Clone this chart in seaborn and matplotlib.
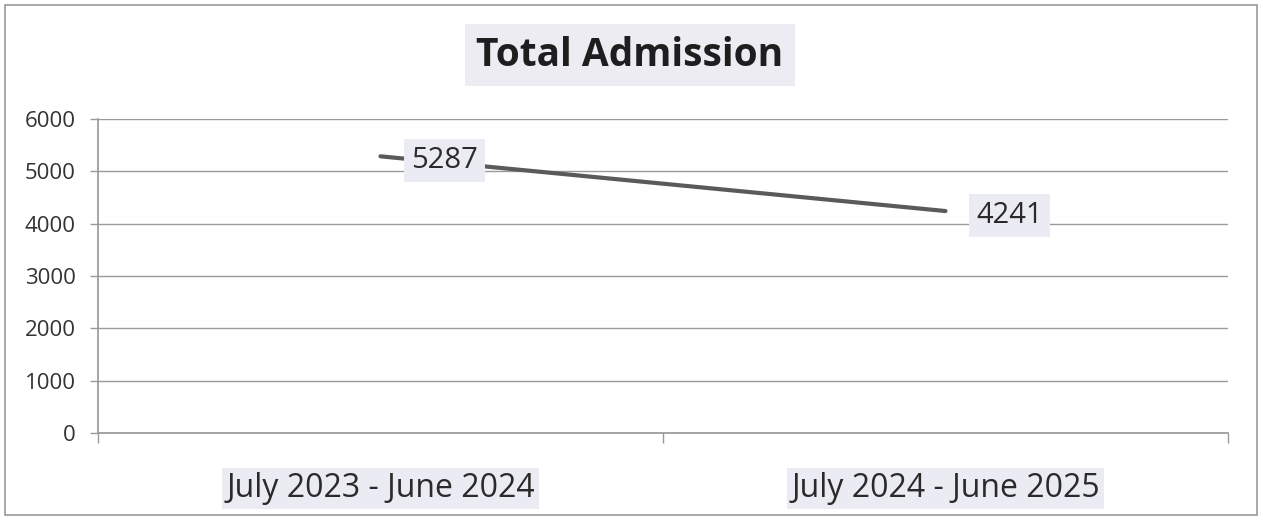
import matplotlib
matplotlib.use("Agg")
import matplotlib.pyplot as plt
import matplotlib.patches as mpatches
import seaborn as sns
import pandas as pd

periods = ["July 2023 - June 2024", "July 2024 - June 2025"]
admissions = [5287, 4241]
y_ticks = [0, 1000, 2000, 3000, 4000, 5000, 6000]
title = "Total Admission"

sns.set_theme(style="white")
plt.rcParams['font.family'] = ['Open Sans', 'DejaVu Sans']

df = pd.DataFrame({"period": periods, "admissions": admissions})

fig = plt.figure(figsize=(12.64, 5.2), dpi=100)
fig.patch.set_facecolor("white")
fig.add_artist(mpatches.Rectangle((5/1264, 5/520), 1252/1264, 510/520,
                                  transform=fig.transFigure, fill=False,
                                  edgecolor="#9a9a9a", linewidth=1.2))
ax = fig.add_axes([98/1264, 87/520, 1130/1264, 314/520])

sns.lineplot(data=df, x="period", y="admissions", ax=ax, color="#5a5a5a",
             linewidth=3.0, sort=False)

ax.set_xlim(-0.5, 1.5)
ax.set_ylim(0, 6000)
ax.set_yticks(y_ticks)
ax.set_yticklabels([str(v) for v in y_ticks], fontsize=16, color="#333333")
ax.yaxis.grid(True, color="#9a9a9a", linewidth=1.0)
ax.set_axisbelow(True)
for s in ["top", "right"]:
    ax.spines[s].set_visible(False)
ax.spines["left"].set_color("#9a9a9a")
ax.spines["bottom"].set_color("#9a9a9a")
ax.tick_params(axis="y", which="major", direction="out", length=6, width=1,
               color="#9a9a9a", left=True, pad=10)
ax.set_xticks([0, 1])
ax.set_xticklabels(periods, fontsize=23, color="#2a2a2a")
for lbl in ax.get_xticklabels():
    lbl.set_bbox(dict(facecolor="#ebebf3", edgecolor="none", pad=3))
ax.tick_params(axis="x", which="major", length=0, pad=28)
ax.set_xticks([-0.5, 0.5, 1.5], minor=True)
ax.tick_params(axis="x", which="minor", direction="out", length=7, width=1,
               color="#9a9a9a", bottom=True)
ax.set_xlabel("")
ax.set_ylabel("")

# data labels
for i, v in enumerate(admissions):
    ax.annotate(str(v), xy=(i, v), xytext=(46, -3), textcoords="offset points",
                ha="center", va="center", fontsize=21, color="#2a2a2a",
                bbox=dict(facecolor="#ebebf3", edgecolor="none", pad=5))

fig.text(630/1264, 1 - 55/520, title, ha="center", va="center", fontsize=28,
         fontweight="bold", color="#1e1e1e",
         bbox=dict(facecolor="#ececf2", edgecolor="none", pad=8))

fig.savefig("out.png", dpi=100)
